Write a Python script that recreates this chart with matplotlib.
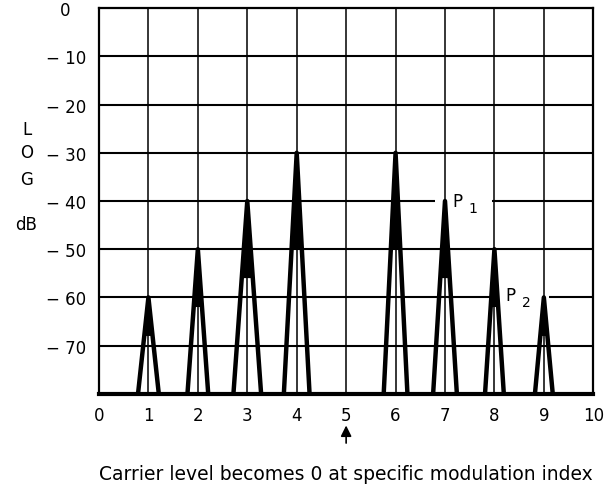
import matplotlib.pyplot as plt

# spectrum lines (sideband order, level in dB, half width of the drawn triangle)
PEAK_X = [1, 2, 3, 4, 6, 7, 8, 9]
PEAK_DB = [-60, -50, -40, -30, -30, -40, -50, -60]
PEAK_HALF = [0.21, 0.21, 0.28, 0.26, 0.24, 0.24, 0.19, 0.18]

X_TICKS = list(range(0, 11))
Y_TICKS = [0, -10, -20, -30, -40, -50, -60, -70]
Y_LABELS = ["0   ", "\u2212 10", "\u2212 20", "\u2212 30", "\u2212 40",
            "\u2212 50", "\u2212 60", "\u2212 70"]

# horizontal grid segments (level, x start, x end); gaps leave room for P1/P2
H_GRID = [(-10, 0, 10), (-20, 0, 10), (-30, 0, 10),
          (-40, 0, 6.8), (-40, 7.96, 10),
          (-50, 0, 10),
          (-60, 0, 8.1), (-60, 9.1, 10),
          (-70, 0, 10)]

FLOOR = -80
FONT = "DejaVu Sans"


def main():
    fig = plt.figure(figsize=(6.11, 4.85), dpi=100)
    ax = fig.add_axes([0.162, 0.186, 0.809, 0.795])
    ax.set_xlim(0, 10)
    ax.set_ylim(FLOOR, 0)

    for x in range(1, 10):
        ax.axvline(x, color="black", lw=1.1, zorder=1)
    for y, x0, x1 in H_GRID:
        ax.plot([x0, x1], [y, y], color="black", lw=1.5, zorder=1,
                solid_capstyle="butt")

    for x, top, w in zip(PEAK_X, PEAK_DB, PEAK_HALF):
        ax.plot([x - w, x, x + w], [FLOOR, top, FLOOR], color="black",
                lw=3.2, zorder=3, solid_joinstyle="round")
        f = 0.4
        h = top - FLOOR
        ax.fill([x - w * f, x, x + w * f], [top - f * h, top, top - f * h],
                color="black", zorder=3, lw=0)

    for side in ["left", "right", "top"]:
        ax.spines[side].set_linewidth(1.6)
    ax.spines["bottom"].set_linewidth(3.0)

    ax.set_xticks(X_TICKS)
    ax.set_xticklabels([str(t) for t in X_TICKS], fontsize=12, family=FONT)
    ax.set_yticks(Y_TICKS)
    ax.set_yticklabels(Y_LABELS, fontsize=12, family=FONT)
    ax.tick_params(length=0, pad=9)

    # peak markers
    ax.text(7.15, -40, "P", fontsize=12, family=FONT, va="center", ha="left")
    ax.text(7.48, -41.5, "1", fontsize=10, family=FONT, va="center", ha="left")
    ax.text(8.22, -59.5, "P", fontsize=12, family=FONT, va="center", ha="left")
    ax.text(8.55, -61, "2", fontsize=10, family=FONT, va="center", ha="left")

    # vertical axis title
    for ch, ypx in zip("LOG", [130, 153, 180]):
        fig.text(27 / 611, 1 - ypx / 485, ch, fontsize=12, family=FONT,
                 ha="center", va="center")
    fig.text(26 / 611, 1 - 225 / 485, "dB", fontsize=12, family=FONT,
             ha="center", va="center")

    ax.annotate("", xy=(5, -86.0), xytext=(5, -90.8),
                arrowprops=dict(arrowstyle="-|>", color="black", lw=1.2,
                                mutation_scale=16),
                annotation_clip=False)
    ax.text(5, -96.6, "Carrier level becomes 0 at specific modulation index",
            fontsize=13.5, family=FONT, ha="center", va="center", clip_on=False)

    fig.savefig("out.png", dpi=100)


if __name__ == "__main__":
    main()
